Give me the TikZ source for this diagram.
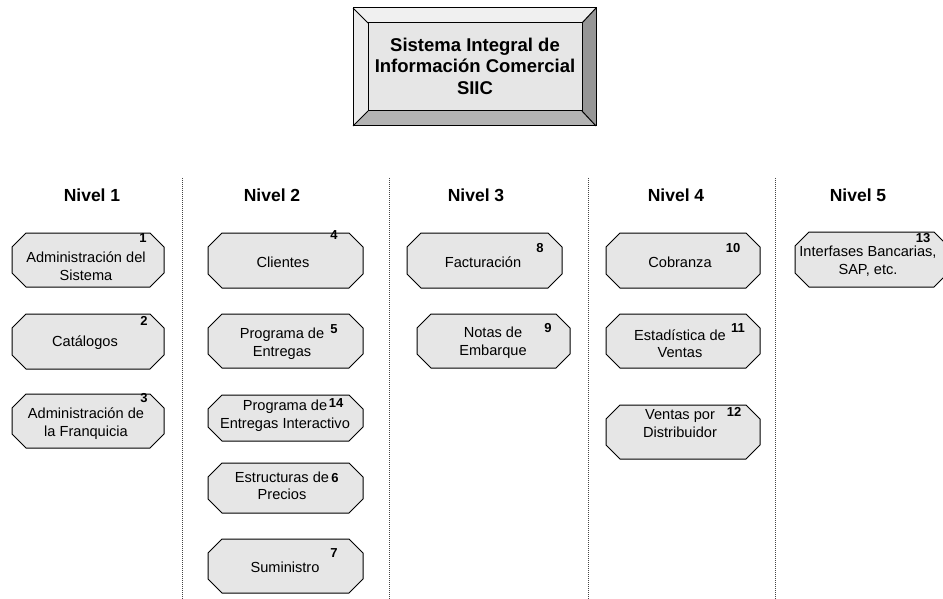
\documentclass[tikz,border=0pt]{standalone}
\usepackage{fontspec}
\setmainfont{Liberation Sans}
\usetikzlibrary{backgrounds}
\definecolor{boxfill}{HTML}{E6E6E6}
\definecolor{bvtop}{HTML}{F0F0F0}
\definecolor{bvleft}{HTML}{EBEBEB}
\definecolor{bvbot}{HTML}{B3B3B3}
\definecolor{bvright}{HTML}{969696}
\definecolor{dotcol}{HTML}{444444}
\tikzset{
  octline/.style={draw=black, line width=1pt, fill=boxfill, line join=miter},
  octanchor/.style={draw=none, inner sep=0pt, outer sep=0pt},
  txt/.style={align=center, inner sep=0pt, font=\fontsize{14.6}{17.5}\selectfont},
  num/.style={inner sep=0pt, font=\bfseries\fontsize{13}{14}\selectfont},
  head/.style={inner sep=0pt, font=\bfseries\fontsize{17.5}{20}\selectfont},
  sep/.style={draw=dotcol, line width=1pt, dash pattern=on 1pt off 1pt},
  bevel/.style={draw=black, line width=1pt, line join=miter}
}
\newcommand\octbox[5]{%
  \node[octanchor, minimum width={#4pt-#2pt}, minimum height={#5pt-#3pt}] (#1) at ({(#2+#4)/2},{(#3+#5)/2}) {};
  \draw[octline] ([xshift=14pt]#1.north west) -- ([xshift=-14pt]#1.north east) -- ([yshift=-14pt]#1.north east) -- ([yshift=14pt]#1.south east) -- ([xshift=-14pt]#1.south east) -- ([xshift=14pt]#1.south west) -- ([yshift=14pt]#1.south west) -- ([yshift=-14pt]#1.north west) -- cycle;
}
\begin{document}
\begin{tikzpicture}[x=1pt,y=-1pt]
\useasboundingbox (0,0) rectangle (943,599);
\begin{scope}
\clip (0,0) rectangle (943,599);
% title box with bevel
\coordinate (A) at (353,8);
\coordinate (B) at (596,8);
\coordinate (C) at (596,126);
\coordinate (D) at (353,126);
\coordinate (a) at (368,23);
\coordinate (b) at (582,23);
\coordinate (c) at (582,111);
\coordinate (d) at (368,111);
\fill[bvtop] (A) -- (B) -- (b) -- (a) -- cycle;
\fill[bvleft] (A) -- (a) -- (d) -- (D) -- cycle;
\fill[bvbot] (D) -- (d) -- (c) -- (C) -- cycle;
\fill[bvright] (B) -- (C) -- (c) -- (b) -- cycle;
\fill[boxfill] (a) rectangle (c);
\draw[bevel] (A) rectangle (C);
\draw[bevel] (a) rectangle (c);
\draw[bevel] (A) -- (a) (B) -- (b) (C) -- (c) (D) -- (d);
\node[align=center, inner sep=0pt, font=\bfseries\fontsize{18.5}{21.5}\selectfont] (title) at (475,66) {Sistema Integral de\\Información Comercial\\SIIC};

% separators
\coordinate (s1t) at (182,178); \coordinate (s1b) at (182,599);
\coordinate (s2t) at (389,178); \coordinate (s2b) at (389,599);
\coordinate (s3t) at (588,178); \coordinate (s3b) at (588,599);
\coordinate (s4t) at (775,178); \coordinate (s4b) at (775,599);
\draw[sep] (s1t) -- (s1b);
\draw[sep] (s2t) -- (s2b);
\draw[sep] (s3t) -- (s3b);
\draw[sep] (s4t) -- (s4b);

% headings
\node[head] (h1) at (92,195) {Nivel 1};
\node[head] (h2) at (272,195) {Nivel 2};
\node[head] (h3) at (476,195) {Nivel 3};
\node[head] (h4) at (676,195) {Nivel 4};
\node[head] (h5) at (858,195) {Nivel 5};

% octagons
\octbox{o1}{12}{233}{164}{287}
\octbox{o2}{12}{314}{164}{369}
\octbox{o3}{12}{394}{164}{448}
\octbox{o4}{208}{233}{363}{288}
\octbox{o5}{208}{314}{363}{368}
\octbox{o14}{208}{395}{363}{441}
\octbox{o6}{208}{463}{363}{513}
\octbox{o7}{208}{539}{363}{593}
\octbox{o8}{407}{233}{562}{288}
\octbox{o9}{417}{314}{570}{368}
\octbox{o10}{606}{233}{760}{288}
\octbox{o11}{606}{314}{760}{368}
\octbox{o12}{606}{405}{760}{459}
\octbox{o13}{795}{232}{948}{287}

% texts
\node[txt] (t1) at (86,266) {Administración del\\Sistema};
\node[txt] (t2) at (85,343) {Catálogos};
\node[txt] (t3) at (86,423.5) {Administración de\\la Franquicia};
\node[txt] (t4) at (283,262) {Clientes};
\node[txt] (t5) at (282,343.5) {Programa de\\Entregas};
\node[txt] (t14) at (285,415.5) {Programa de\\Entregas Interactivo};
\node[txt] (t6) at (282,486) {Estructuras de\\Precios};
\node[txt] (t7) at (285,567) {Suministro};
\node[txt] (t8) at (483,262) {Facturación};
\node[txt] (t9) at (493,342.5) {Notas de\\Embarque};
\node[txt] (t10) at (680,262) {Cobranza};
\node[txt] (t11) at (680,343.5) {Estadística de\\Ventas};
\node[txt] (t12) at (680,423.5) {Ventas por\\Distribuidor};
\node[txt] (t13) at (868,261) {Interfases Bancarias,\\SAP, etc.};

% numbers
\node[num] (n1) at (143,238) {1};
\node[num] (n2) at (144,321) {2};
\node[num] (n3) at (144,398) {3};
\node[num] (n4) at (334,235) {4};
\node[num] (n5) at (334,329) {5};
\node[num] (n14) at (336,403) {14};
\node[num] (n6) at (335,478) {6};
\node[num] (n7) at (334,553) {7};
\node[num] (n8) at (540,248) {8};
\node[num] (n9) at (548,328) {9};
\node[num] (n10) at (733,248) {10};
\node[num] (n11) at (738,328) {11};
\node[num] (n12) at (734,412) {12};
\node[num] (n13) at (923,238) {13};
\end{scope}
\end{tikzpicture}
\end{document}
